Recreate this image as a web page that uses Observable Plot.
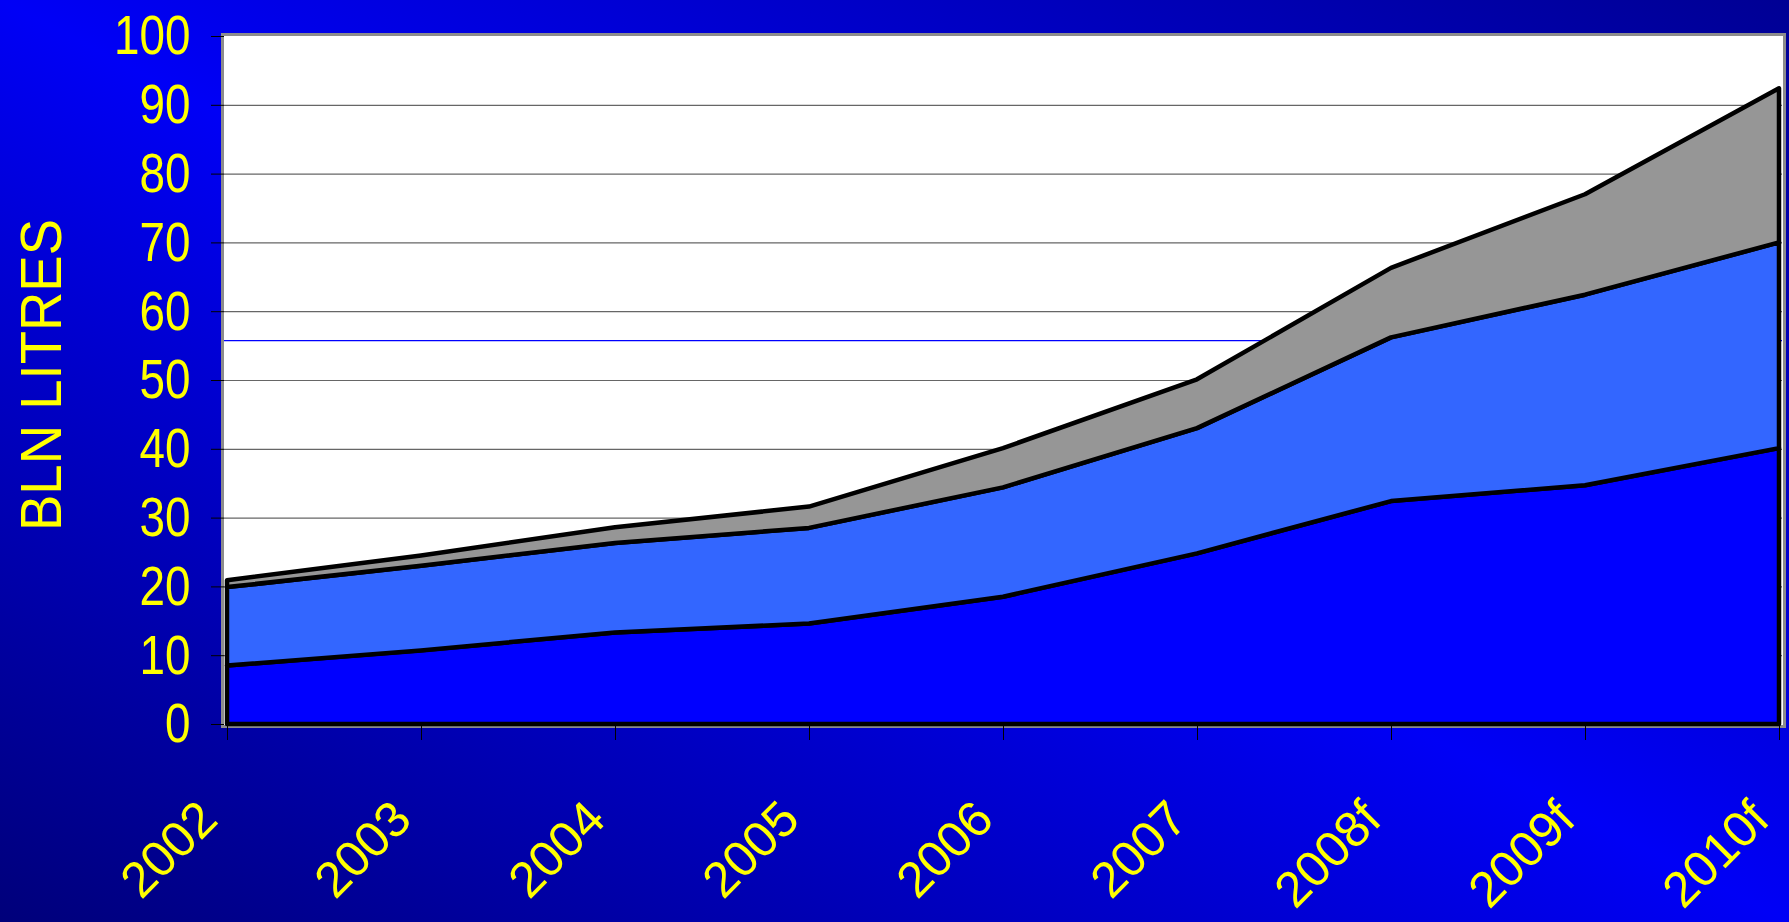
<!DOCTYPE html>
<html>
<head>
<meta charset="utf-8">
<script src="https://cdn.jsdelivr.net/npm/d3@7"></script>
<script src="https://cdn.jsdelivr.net/npm/@observablehq/plot@0.6"></script>
<style>
  html, body { margin: 0; padding: 0; }
  body {
    width: 1789px; height: 922px; overflow: hidden;
    background: linear-gradient(to top right, #00007a 0%, #0000f6 50%, #000094 100%);
    font-family: "Liberation Sans", Arial, sans-serif;
  }
  #chart svg { display: block; }
</style>
</head>
<body>
<div id="chart"></div>
<script>
// Years on the category axis ("f" = forecast)
const years = ["2002", "2003", "2004", "2005", "2006", "2007", "2008f", "2009f", "2010f"];

// Volumes per layer, billion litres (stacked bottom to top)
const lowerLayer  = [8.5, 10.7, 13.3, 14.6, 18.5, 24.8, 32.4, 34.7, 40.1];
const middleLayer = [11.4, 12.3, 13.0, 13.9, 15.9, 18.2, 23.8, 27.7, 29.9];
const upperLayer  = [1.0, 1.5, 2.3, 3.1, 5.7, 7.1, 10.1, 14.6, 22.4];

const layerNames  = ["lower", "middle", "upper"];
const layerColors = ["#0000ff", "#3366ff", "#969696"];

// Value axis
const yTicks = [0, 10, 20, 30, 40, 50, 60, 70, 80, 90, 100];
const gridLevels = [10, 20, 30, 40, 50, 60, 70, 80, 90];
const guideLevel = [55.8];
const axisTitle = "BLN LITRES";

const rows = years.flatMap((year, i) => [
  {year, layer: "lower", value: lowerLayer[i]},
  {year, layer: "middle", value: middleLayer[i]},
  {year, layer: "upper", value: upperLayer[i]}
]);

const chart = Plot.plot({
  width: 1789,
  height: 922,
  marginLeft: 224,
  marginRight: 7,
  marginTop: 36,
  marginBottom: 198,
  style: {background: "transparent", fontFamily: "Liberation Sans, Arial, sans-serif", overflow: "visible"},
  x: {type: "point", domain: years, padding: 0, axis: null},
  y: {domain: [0, 100], axis: null},
  color: {domain: layerNames, range: layerColors},
  marks: [
    Plot.frame({fill: "white", stroke: "#8c8c8c", strokeWidth: 3, inset: -2}),
    Plot.ruleY(gridLevels, {stroke: "#666", strokeWidth: 1.2}),
    Plot.ruleY(guideLevel, {stroke: "#0000ff", strokeWidth: 1.2}),
    Plot.areaY(rows, {
      x: "year", y: "value", z: "layer", fill: "layer",
      stroke: "black", strokeWidth: 4.5, strokeLinejoin: "round"
    }),
    // tick marks
    Plot.axisY({ticks: yTicks, tickSize: 13, stroke: "black", tickFormat: () => "", label: null}),
    Plot.axisX({tickSize: 16, stroke: "black", tickFormat: () => "", label: null}),
    // tick labels
    Plot.axisY({ticks: yTicks, tickSize: 0, tickPadding: 34, fill: "#ffff00", fontSize: 56, label: null}),
    Plot.axisX({tickSize: 0, tickRotate: -45, tickPadding: 86, dx: -19, fill: "#ffff00", fontSize: 50, label: null})
  ]
});

document.getElementById("chart").append(chart);

const svg = d3.select(chart.tagName.toLowerCase() === "svg" ? chart : chart.querySelector("svg"));

// Narrow the value labels
svg.selectAll('g[aria-label="y-axis tick label"] text').each(function () {
  const t = this.textContent;
  if (t) {
    this.setAttribute("textLength", t.length * 25.5);
    this.setAttribute("lengthAdjust", "spacingAndGlyphs");
  }
});

// Vertical axis title
svg.append("text")
  .attr("transform", "translate(61,375) rotate(-90)")
  .attr("text-anchor", "middle")
  .attr("fill", "#ffff00")
  .attr("font-size", 58)
  .attr("font-family", "Liberation Sans, Arial, sans-serif")
  .attr("textLength", 312)
  .attr("lengthAdjust", "spacingAndGlyphs")
  .text(axisTitle);
</script>
</body>
</html>
